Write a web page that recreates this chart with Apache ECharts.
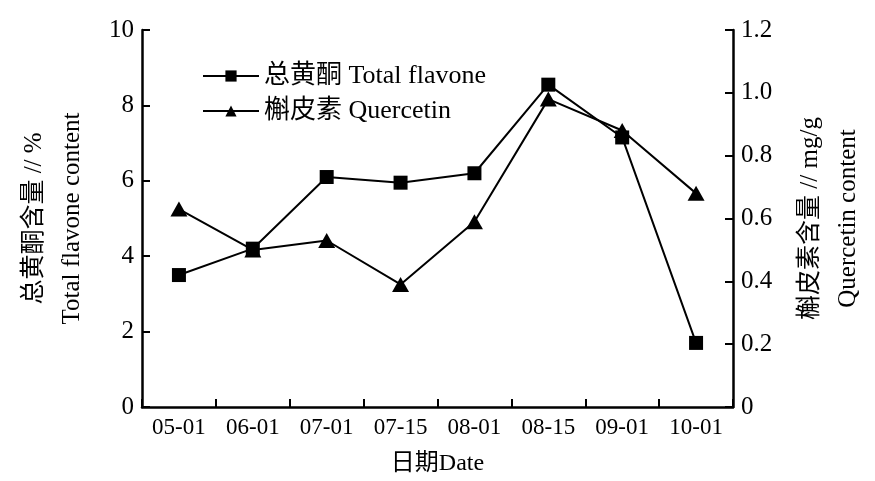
<!DOCTYPE html>
<html>
<head>
<meta charset="utf-8">
<script src="https://cdn.jsdelivr.net/npm/echarts@6/dist/echarts.min.js"></script>
<style>html,body{margin:0;padding:0;background:#fff;}#c{width:875px;height:481px;}</style>
</head>
<body>
<div id="c"></div>
<script>
const categories = ['05-01','06-01','07-01','07-15','08-01','08-15','09-01','10-01'];
const totalFlavone = [3.5, 4.2, 6.1, 5.95, 6.2, 8.55, 7.15, 1.7];
const quercetin = [0.63, 0.5, 0.53, 0.39, 0.59, 0.98, 0.88, 0.68];
const leftTicks = {min: 0, max: 10, interval: 2};
const rightTicks = {min: 0, max: 1.2, interval: 0.2};
const seriesNames = ['总黄酮 Total flavone', '槲皮素 Quercetin'];
const leftName = '总黄酮含量 // %\nTotal flavone content';
const rightName = '槲皮素含量 // mg/g\nQuercetin content';
const xName = '日期Date';

const FONT = '"Liberation Serif", "Noto Sans CJK SC", serif';
const axisLine = {show: true, lineStyle: {color: '#000', width: 2.5}};

const chart = echarts.init(document.getElementById('c'), null, {renderer: 'canvas'});
chart.setOption({
  animation: false,
  backgroundColor: '#fff',
  grid: {left: 142, right: 140, top: 30, bottom: 74, containLabel: false},
  legend: {
    orient: 'vertical', left: 197, top: 57,
    itemWidth: 56, itemHeight: 14, itemGap: 7,
    textStyle: {fontFamily: FONT, fontSize: 26, color: '#000', lineHeight: 28},
    data: seriesNames
  },
  xAxis: {
    type: 'category', data: categories, boundaryGap: true,
    name: xName, nameLocation: 'middle', nameGap: 45,
    nameTextStyle: {fontFamily: FONT, fontSize: 24, color: '#000'},
    axisLine: axisLine,
    axisTick: {show: true, inside: true, length: 8, alignWithLabel: false, lineStyle: {color: '#000', width: 2}},
    axisLabel: {fontFamily: FONT, fontSize: 23, color: '#000', margin: 9}
  },
  yAxis: [{
    type: 'value', position: 'left', min: leftTicks.min, max: leftTicks.max, interval: leftTicks.interval,
    name: leftName, nameLocation: 'middle', nameRotate: 90, nameGap: 51,
    nameTextStyle: {fontFamily: FONT, fontSize: 25, color: '#000', lineHeight: 38, align: 'center'},
    axisLine: axisLine,
    axisTick: {show: true, inside: true, length: 8, lineStyle: {color: '#000', width: 2}},
    splitLine: {show: false},
    axisLabel: {fontFamily: FONT, fontSize: 25, color: '#000', margin: 8}
  }, {
    type: 'value', position: 'right', min: rightTicks.min, max: rightTicks.max, interval: rightTicks.interval,
    name: rightName, nameLocation: 'middle', nameRotate: 90, nameGap: 58,
    nameTextStyle: {fontFamily: FONT, fontSize: 25, color: '#000', lineHeight: 38, align: 'center'},
    axisLine: axisLine,
    axisTick: {show: true, inside: true, length: 8, lineStyle: {color: '#000', width: 2}},
    splitLine: {show: false},
    axisLabel: {fontFamily: FONT, fontSize: 25, color: '#000', margin: 8,
      formatter: v => v === 0 ? '0' : v.toFixed(1)}
  }],
  series: [{
    name: seriesNames[0], type: 'line', yAxisIndex: 0, data: totalFlavone,
    symbol: 'rect', symbolSize: 14,
    lineStyle: {color: '#000', width: 2}, itemStyle: {color: '#000'}
  }, {
    name: seriesNames[1], type: 'line', yAxisIndex: 1, data: quercetin,
    symbol: 'triangle', symbolSize: [17, 15],
    lineStyle: {color: '#000', width: 2}, itemStyle: {color: '#000'}
  }]
});
</script>
</body>
</html>
